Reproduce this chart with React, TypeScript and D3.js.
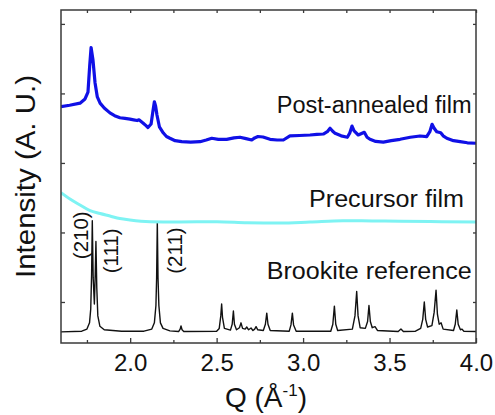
import { useEffect, useRef } from 'react';
import * as d3 from 'd3';

// tick values
const qTicks = [2.0, 2.5, 3.0, 3.5, 4.0];
const qMinorTicks = [1.75, 2.25, 2.75, 3.25, 3.75];
const intensityTicks = [1, 2, 3, 4, 5];

// series: [Q, intensity (offset, arb. units)]
const postAnnealed: [number, number][] = [
  [1.6, 3.81], [1.65, 3.83], [1.71, 3.86], [1.739, 3.92], [1.756, 4.02], [1.766, 4.4],
  [1.774, 4.66], [1.785, 4.48], [1.797, 4.15], [1.81, 3.95], [1.826, 3.86], [1.85, 3.79],
  [1.883, 3.72], [1.91, 3.68], [1.941, 3.65], [1.97, 3.64], [1.999, 3.63], [2.02, 3.62],
  [2.04, 3.61], [2.051, 3.62], [2.074, 3.575], [2.09, 3.54], [2.103, 3.51], [2.121, 3.56],
  [2.132, 3.75], [2.14, 3.88], [2.147, 3.82], [2.155, 3.69], [2.169, 3.52], [2.192, 3.43],
  [2.21, 3.38], [2.23, 3.355], [2.26, 3.32], [2.298, 3.306], [2.35, 3.3], [2.404, 3.306],
  [2.44, 3.33], [2.472, 3.355], [2.51, 3.34], [2.558, 3.34], [2.6, 3.36], [2.635, 3.37],
  [2.67, 3.35], [2.703, 3.33], [2.72, 3.36], [2.739, 3.38], [2.768, 3.373], [2.809, 3.34],
  [2.85, 3.33], [2.886, 3.33], [2.924, 3.388], [2.98, 3.395], [3.04, 3.402], [3.08, 3.41],
  [3.117, 3.416], [3.14, 3.45], [3.156, 3.5], [3.17, 3.46], [3.185, 3.426], [3.22, 3.39],
  [3.256, 3.369], [3.27, 3.43], [3.283, 3.53], [3.295, 3.46], [3.319, 3.402], [3.335, 3.42],
  [3.354, 3.441], [3.37, 3.37], [3.387, 3.34], [3.42, 3.31], [3.464, 3.3], [3.51, 3.32],
  [3.561, 3.34], [3.62, 3.37], [3.676, 3.388], [3.715, 3.378], [3.733, 3.45], [3.746, 3.556],
  [3.758, 3.5], [3.773, 3.449], [3.796, 3.435], [3.81, 3.39], [3.831, 3.355], [3.87, 3.32],
  [3.908, 3.306], [3.95, 3.29], [4.0, 3.283],
];

const precursor: [number, number][] = [
  [1.6, 2.572], [1.652, 2.481], [1.71, 2.395], [1.768, 2.313], [1.826, 2.273],
  [1.883, 2.237], [1.94, 2.2], [1.999, 2.179], [2.115, 2.155], [2.271, 2.15],
  [2.502, 2.155], [2.676, 2.14], [2.867, 2.135], [3.04, 2.15], [3.231, 2.169],
  [3.4, 2.165], [3.561, 2.162], [3.8, 2.155], [4.0, 2.15],
];

const brookite: [number, number][] = [
  [1.6, 0.57], [1.72, 0.58], [1.75, 0.61], [1.765, 0.7], [1.772, 0.9], [1.777, 1.4],
  [1.781, 2.17], [1.786, 1.35], [1.793, 0.97], [1.798, 1.4], [1.802, 1.87], [1.807, 1.2],
  [1.813, 0.8], [1.825, 0.65], [1.85, 0.6], [1.95, 0.58], [2.08, 0.58], [2.125, 0.61],
  [2.14, 0.7], [2.149, 0.95], [2.153, 1.35], [2.157, 2.15], [2.161, 1.35], [2.166, 0.95],
  [2.175, 0.7], [2.19, 0.62], [2.23, 0.585], [2.28, 0.575], [2.289, 0.61], [2.294, 0.655],
  [2.3, 0.6], [2.31, 0.575], [2.5, 0.58], [2.515, 0.62], [2.524, 0.8], [2.529, 0.97],
  [2.534, 0.78], [2.545, 0.62], [2.58, 0.595], [2.59, 0.68], [2.597, 0.87], [2.603, 0.68],
  [2.615, 0.6], [2.632, 0.63], [2.641, 0.7], [2.65, 0.62], [2.665, 0.61], [2.674, 0.64],
  [2.685, 0.6], [2.699, 0.625], [2.71, 0.59], [2.72, 0.61], [2.728, 0.645], [2.738, 0.6],
  [2.77, 0.59], [2.782, 0.68], [2.79, 0.84], [2.797, 0.68], [2.81, 0.59], [2.92, 0.58],
  [2.93, 0.67], [2.938, 0.84], [2.945, 0.67], [2.96, 0.58], [3.16, 0.58], [3.172, 0.68],
  [3.181, 0.94], [3.189, 0.68], [3.2, 0.59], [3.285, 0.61], [3.3, 0.8], [3.31, 1.15],
  [3.318, 0.8], [3.33, 0.63], [3.36, 0.62], [3.373, 0.72], [3.381, 0.95], [3.389, 0.72],
  [3.4, 0.63], [3.416, 0.645], [3.43, 0.59], [3.55, 0.575], [3.566, 0.61], [3.58, 0.575],
  [3.65, 0.58], [3.68, 0.62], [3.692, 0.75], [3.701, 1.0], [3.709, 0.75], [3.72, 0.64],
  [3.745, 0.66], [3.758, 0.85], [3.769, 1.17], [3.777, 0.82], [3.787, 0.68], [3.798, 0.7],
  [3.81, 0.61], [3.87, 0.59], [3.88, 0.68], [3.889, 0.885], [3.897, 0.68], [3.91, 0.6],
  [3.918, 0.61], [3.93, 0.58], [4.0, 0.575],
];

const seriesNames = ['Post-annealed film', 'Precursor film', 'Brookite reference'];
const hklNames = ['(210)', '(111)', '(211)'];

const FONT = '"Liberation Sans", Arial, Helvetica, sans-serif';

const App = () => {
  const svgRef = useRef<SVGSVGElement>(null);

  useEffect(() => {
    const svg = d3.select(svgRef.current);
    svg.selectAll('*').remove();

    const W = 495;
    const H = 415;
    const margin = { top: 10, right: 19, bottom: 72, left: 61 };
    const width = W - margin.left - margin.right;
    const height = H - margin.top - margin.bottom;

    svg.attr('width', W).attr('height', H);

    const g = svg.append('g').attr('transform', `translate(${margin.left},${margin.top})`);

    const x = d3.scaleLinear().domain([1.6, 4.0]).range([0, width]);
    const y = d3.scaleLinear().domain([0.41, 5.2]).range([height, 0]);

    const line = d3.line<[number, number]>()
      .x(d => x(d[0]))
      .y(d => y(d[1]));

    const clip = svg.append('defs').append('clipPath').attr('id', 'plot-clip');
    clip.append('rect').attr('width', width).attr('height', height);

    const plot = g.append('g').attr('clip-path', 'url(#plot-clip)');

    plot.append('path')
      .datum(brookite)
      .attr('fill', 'none')
      .attr('stroke', '#111')
      .attr('stroke-width', 1.4)
      .attr('stroke-linejoin', 'round')
      .attr('d', line);

    plot.append('path')
      .datum(precursor)
      .attr('fill', 'none')
      .attr('stroke', '#7ef3f3')
      .attr('stroke-width', 3)
      .attr('d', line.curve(d3.curveMonotoneX));

    plot.append('path')
      .datum(postAnnealed)
      .attr('fill', 'none')
      .attr('stroke', '#1010e6')
      .attr('stroke-width', 3.2)
      .attr('stroke-linejoin', 'round')
      .attr('d', line.curve(d3.curveLinear));

    // axes (ticks point inward)
    const axisColor = '#3a3a3a';
    const bottom = g.append('g')
      .attr('transform', `translate(0,${height})`)
      .call(d3.axisBottom(x).tickValues(qTicks).tickSize(-5).tickPadding(11).tickFormat(d3.format('.1f')));
    bottom.append('g').call(d3.axisBottom(x).tickValues(qMinorTicks).tickSize(-3).tickFormat(() => ''));

    g.append('g')
      .call(d3.axisTop(x).tickValues([...qMinorTicks, ...qTicks]).tickSize(-3).tickFormat(() => ''));

    g.append('g')
      .call(d3.axisLeft(y).tickValues(intensityTicks).tickSize(-4).tickFormat(() => ''));

    g.append('g')
      .attr('transform', `translate(${width},0)`)
      .call(d3.axisRight(y).tickValues(intensityTicks).tickSize(-3).tickFormat(() => ''));

    g.selectAll('.domain').remove();
    g.selectAll('.tick line').attr('stroke', axisColor).attr('stroke-width', 1.3);
    g.selectAll('.tick text')
      .style('font-family', FONT)
      .style('font-size', '24px')
      .attr('fill', '#111');

    g.append('rect')
      .attr('width', width)
      .attr('height', height)
      .attr('fill', 'none')
      .attr('stroke', axisColor)
      .attr('stroke-width', 1.5);

    // series labels
    const labelPos = [
      { x: 471.7, y: 113, len: 195 },
      { x: 464, y: 206.7, len: 155 },
      { x: 471.7, y: 279.3, len: 205 },
    ];
    seriesNames.forEach((name, i) => {
      svg.append('text')
        .attr('x', labelPos[i].x)
        .attr('y', labelPos[i].y)
        .attr('text-anchor', 'end')
        .attr('textLength', labelPos[i].len)
        .attr('lengthAdjust', 'spacingAndGlyphs')
        .style('font-family', FONT)
        .style('font-size', '23px')
        .attr('fill', '#111')
        .text(name);
    });

    // Miller indices, rotated
    const hklPos = [
      { q: 1.716, v: 1.96 },
      { q: 1.888, v: 1.735 },
      { q: 2.259, v: 1.74 },
    ];
    hklNames.forEach((name, i) => {
      g.append('text')
        .attr('transform', `translate(${x(hklPos[i].q)},${y(hklPos[i].v)}) rotate(-90)`)
        .attr('text-anchor', 'middle')
        .attr('dy', '0.35em')
        .style('font-family', FONT)
        .style('font-size', '20.5px')
        .attr('fill', '#111')
        .text(name);
    });

    // axis titles
    const xt = svg.append('text')
      .attr('x', 266)
      .attr('y', 407)
      .attr('text-anchor', 'middle')
      .style('font-family', FONT)
      .style('font-size', '28px')
      .attr('fill', '#111');
    xt.append('tspan').text('Q (Å');
    xt.append('tspan').attr('dy', -11).style('font-size', '17px').text('-1');
    xt.append('tspan').attr('dy', 11).text(')');

    svg.append('text')
      .attr('transform', 'translate(35,176.5) rotate(-90)')
      .attr('text-anchor', 'middle')
      .attr('textLength', 203)
      .attr('lengthAdjust', 'spacingAndGlyphs')
      .style('font-family', FONT)
      .style('font-size', '27px')
      .attr('fill', '#111')
      .text('Intensity (A. U.)');
  }, []);

  return (
    <div style={{ position: 'absolute', left: 0, top: 0 }}>
      <svg ref={svgRef} style={{ display: 'block' }}></svg>
    </div>
  );
};

export default App;
